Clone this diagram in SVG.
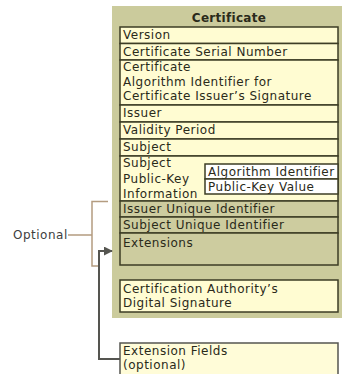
<svg xmlns="http://www.w3.org/2000/svg" width="345" height="374" viewBox="0 0 345 374">
<style>
text{font-family:"DejaVu Sans","Verdana",sans-serif;font-size:12px;letter-spacing:0.5px;fill:#2a2a1a}
.h{font-weight:bold;letter-spacing:0.3px}
.cream{fill:#fffcd2;stroke:#3d3d25;stroke-width:1.5}
.khaki{fill:#cdcc9f;stroke:#3d3d25;stroke-width:1.5}
.white{fill:#ffffff;stroke:#3d3d25;stroke-width:1.5}
.conn{fill:none;stroke:#555550;stroke-width:2}
.brk{fill:none;stroke:#b49c80;stroke-width:1.5}
</style>
<defs>
<marker id="arr" viewBox="0 0 10 10" refX="9" refY="5" markerWidth="4.5" markerHeight="4.5" orient="auto" markerUnits="strokeWidth">
<path d="M0,0 L10,5 L0,10 z" fill="#555550"/>
</marker>
</defs>
<rect width="345" height="374" fill="#ffffff"/>
<g id="certificate">
<rect x="112" y="6" width="230" height="312" fill="#cbcb9c"/>
<text class="h" x="229" y="22" text-anchor="middle">Certificate</text>
</g>
<g id="version"><rect class="cream" x="120" y="27" width="218" height="16.5"/><text x="123" y="39">Version</text></g>
<g id="serial"><rect class="cream" x="120" y="43.5" width="218" height="16.5"/><text x="123" y="56">Certificate Serial Number</text></g>
<g id="sigalg"><rect class="cream" x="120" y="60" width="218" height="45"/><text x="123" y="71">Certificate</text><text x="123" y="85.5">Algorithm Identifier for</text><text x="123" y="100">Certificate Issuer’s Signature</text></g>
<g id="issuer"><rect class="cream" x="120" y="105" width="218" height="17"/><text x="123" y="117">Issuer</text></g>
<g id="validity"><rect class="cream" x="120" y="122" width="218" height="17"/><text x="123" y="134">Validity Period</text></g>
<g id="subject"><rect class="cream" x="120" y="139" width="218" height="17"/><text x="123" y="151">Subject</text></g>
<g id="spki"><rect class="cream" x="120" y="156" width="218" height="45"/><text x="123" y="167">Subject</text><text x="123" y="182.5">Public-Key</text><text x="123" y="198">Information</text>
<g id="algid"><rect class="white" x="205" y="164" width="133" height="15"/><text x="208" y="175.5">Algorithm Identifier</text></g>
<g id="pkval"><rect class="white" x="205" y="179" width="133" height="15"/><text x="208" y="190.5">Public-Key Value</text></g>
</g>
<g id="issuerUid"><rect class="khaki" x="120" y="201" width="218" height="16"/><text x="123" y="213">Issuer Unique Identifier</text></g>
<g id="subjectUid"><rect class="khaki" x="120" y="217" width="218" height="16"/><text x="123" y="229">Subject Unique Identifier</text></g>
<g id="extensions"><rect class="khaki" x="120" y="233" width="218" height="32"/><text x="123" y="247">Extensions</text></g>
<g id="caSignature"><rect class="cream" x="120" y="280" width="218" height="32"/><text x="123" y="293">Certification Authority’s</text><text x="123" y="307">Digital Signature</text></g>
<g id="extFields"><rect x="120" y="343" width="218" height="40" fill="#fffcd8" stroke="#555550" stroke-width="1.5"/><text x="123" y="355">Extension Fields</text><text x="123" y="369">(optional)</text></g>
<g id="optional"><text x="13" y="239" style="fill:#404040">Optional</text></g>
<g id="connectors">
<path class="brk" d="M108,201.5 H92 V266 H98 M68,235 H92"/>
<path class="conn" d="M120,359 H99 V251 H112" marker-end="url(#arr)"/>
</g>
</svg>
